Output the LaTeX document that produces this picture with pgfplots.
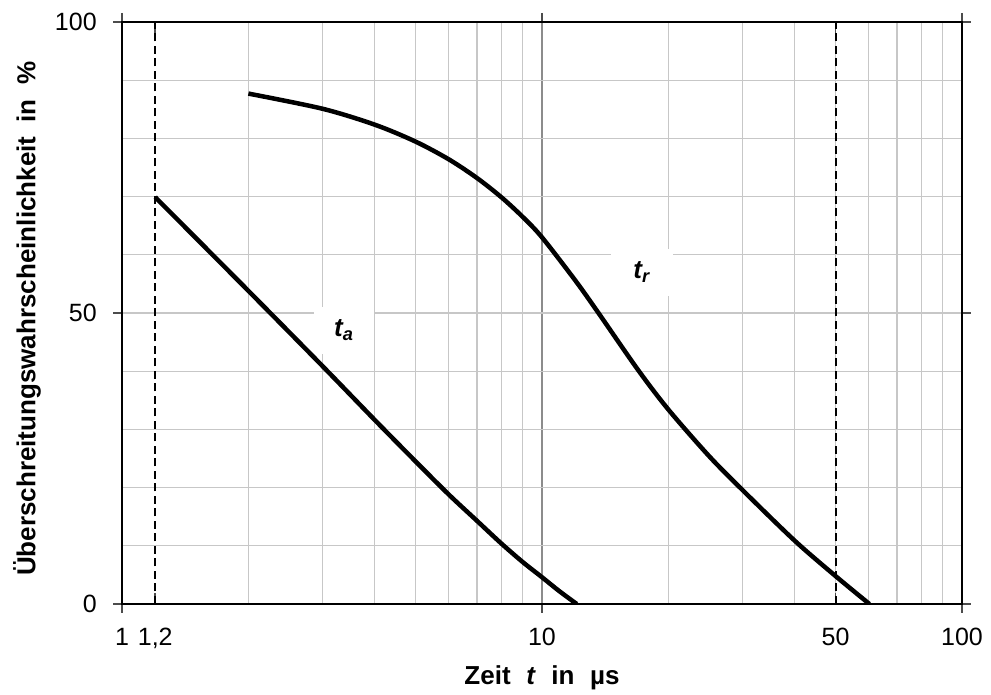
\documentclass[border=0pt]{standalone}
\usepackage{fontspec}
\setmainfont{Liberation Sans}
\usepackage{pgfplots}
\pgfplotsset{compat=1.18}

\begin{document}
\begin{tikzpicture}
\begin{axis}[
  scale only axis,
  width=336pt, height=232.8pt,
  xmode=log,
  xmin=1, xmax=100,
  ymin=0, ymax=100,
  xtick={1,10,100},
  xticklabels={1,10,100},
  extra x ticks={1.2,50},
  extra x tick labels={{1,2},50},
  extra x tick style={grid=none, tick align=inside, major tick length=4.5pt,
    xticklabel style={yshift=-3.6pt}},
  ytick={0,50,100},
  yticklabels={0,50,100},
  minor ytick={10,20,30,40,60,70,80,90},
  grid=both,
  minor grid style={black!22, line width=0.5pt},
  major grid style={black!22, line width=0.5pt},
  major x grid style={black!45, line width=0.6pt},
  tick align=outside,
  major tick length=3.6pt,
  minor tick length=0pt,
  tick style={black!70, line width=0.6pt},
  axis line style={black, line width=0.8pt},
  /pgf/number format/assume math mode=true,
  tick label style={font=\fontsize{10}{12}\selectfont},
  yticklabel style={xshift=-3pt},
  xticklabel style={yshift=-2.5pt},
  xlabel={Zeit\hspace{0.6em}\textit{t}\hspace{0.6em}in\hspace{0.6em}µs},
  ylabel={Überschreitungswahrscheinlichkeit\hspace{0.55em}in\hspace{0.55em}\%},
  label style={font=\bfseries\fontsize{10.4}{12}\selectfont},
  xlabel style={at={(axis description cs:0.5,-0.139)}, anchor=base},
  ylabel style={at={(axis description cs:-0.113,0.49)}, anchor=center},
]
% Beschriftungen zuerst, damit die Kurven darueber liegen
\node[fill=white, minimum width=24pt, minimum height=19pt,
  font=\bfseries\itshape\fontsize{10.4}{12}\selectfont]
  at (axis cs:3.38,47.0) {t\textsubscript{a}};
\node[fill=white, minimum width=24.8pt, minimum height=19pt,
  font=\bfseries\itshape\fontsize{10.4}{12}\selectfont]
  at (axis cs:17.3,57.0) {t\textsubscript{r}};
% Grenzlinien
\addplot[black, line width=0.8pt, dash pattern=on 3.2pt off 1.8pt]
  coordinates {(1.2,0) (1.2,100)};
\addplot[black, line width=0.8pt, dash pattern=on 3.2pt off 1.8pt]
  coordinates {(50,0) (50,100)};
% t_a
\addplot[black, line width=1.8pt, smooth]
  coordinates {
    (1.2,69.9) (2,53.8) (3,40.9) (4,31.6) (5,24.5) (6,18.8)
    (7,14.3) (8,10.4) (9,7.2) (10,4.6) (11,2.2) (12.1,0)
};
% t_r
\addplot[black, line width=1.8pt, smooth]
  coordinates {
    (2,87.7) (3,85.1) (4,82.35) (5,79.45) (6,76.4) (7,73.2)
    (8,69.9) (9,66.5) (10,63.0) (12,55.6) (13.6,50.1)
    (16.9,40.3) (20,33.4) (25,25.4) (30,19.6) (40,10.85) (50,4.8) (60.2,0)
};
\coordinate (O) at (rel axis cs:0,0);
\end{axis}
\pgfresetboundingbox
\path (O) ++(-48.8pt,-36.4pt) rectangle ++(396.4pt,278pt);
\end{tikzpicture}
\end{document}
